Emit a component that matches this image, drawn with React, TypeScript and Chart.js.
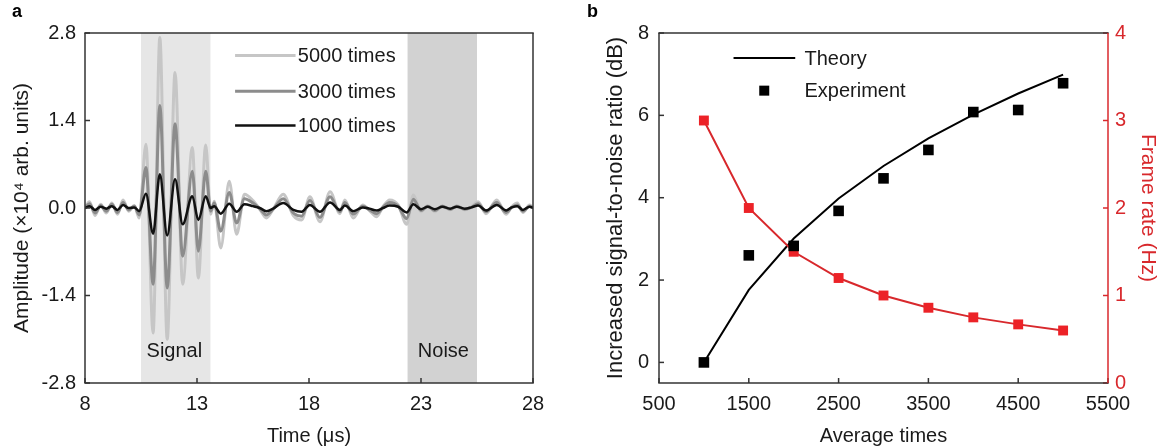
import React, { useEffect, useRef } from "react";
import { Chart, registerables } from "chart.js";

Chart.register(...registerables);

const FONT = "'Liberation Sans', Arial, Helvetica, sans-serif";
Chart.defaults.font.family = FONT;

// ---------- Panel a data ----------
const TIME_US = [
  8.0, 8.2, 8.45, 8.7, 8.95, 9.2, 9.45, 9.7, 9.95, 10.2, 10.42,
  10.72, 11.04, 11.34, 11.67, 12.02, 12.36, 12.79, 13.06, 13.39, 13.61, 13.77,
  14.06, 14.44, 14.77, 15.12, 15.5, 15.8, 16.1, 16.4, 16.85, 17.3,
  17.67, 18.04, 18.49, 18.94, 19.38, 19.6, 19.98, 20.4, 20.7, 21.02,
  21.3, 21.6, 21.98, 22.36, 22.66, 23.0, 23.3, 23.62, 23.95, 24.3,
  24.6, 24.95, 25.25, 25.55, 25.9, 26.38, 26.8, 27.05, 27.3, 27.55,
  27.85, 28.0,
];
const AMP_5000 = [
  0.0, 0.1, -0.12, 0.06, -0.08, 0.08, -0.1, 0.13, -0.05, 0.04, -0.16,
  1.02, -2.0, 2.73, -2.1, 2.17, -1.22, 0.97, -1.12, 1.01, -0.1, 0.11,
  -0.64, 0.43, -0.42, 0.22, 0.12, -0.02, -0.16, -0.02, 0.22, -0.12,
  -0.19, 0.18, -0.22, 0.26, -0.09, 0.13, -0.16, 0.05, -0.04, -0.14,
  0.02, 0.13, 0.05, -0.26, 0.21, -0.06, 0.04, -0.06, 0.04, -0.03,
  0.04, -0.03, 0.02, 0.1, -0.09, 0.13, -0.1, 0.02, 0.08, -0.07,
  0.05, 0.0,
];
const AMP_3000 = [
  0.0, 0.07, -0.08, 0.04, -0.05, 0.06, -0.07, 0.09, -0.03, 0.03, -0.11,
  0.65, -1.22, 1.64, -1.28, 1.35, -0.77, 0.59, -0.69, 0.59, -0.05, 0.08,
  -0.37, 0.25, -0.24, 0.15, 0.08, -0.01, -0.11, -0.02, 0.15, -0.08,
  -0.13, 0.12, -0.15, 0.18, -0.06, 0.09, -0.1, 0.03, -0.03, -0.09,
  0.01, 0.09, 0.03, -0.17, 0.14, -0.04, 0.03, -0.04, 0.03, -0.02,
  0.03, -0.02, 0.01, 0.07, -0.06, 0.09, -0.07, 0.01, 0.05, -0.05,
  0.03, 0.0,
];
const AMP_1000 = [
  0.0, 0.03, -0.03, 0.02, -0.01, 0.03, -0.03, 0.05, 0.0, 0.01, -0.05,
  0.23, -0.41, 0.54, -0.44, 0.46, -0.26, 0.19, -0.19, 0.19, 0.0, 0.03,
  -0.09, 0.07, -0.06, 0.06, 0.03, 0.0, -0.05, -0.01, 0.08, -0.03,
  -0.06, 0.05, -0.06, 0.09, -0.03, 0.04, -0.05, 0.01, -0.01, -0.04,
  0.0, 0.04, 0.02, -0.07, 0.06, -0.02, 0.02, -0.02, 0.02, -0.01,
  0.02, -0.01, 0.01, 0.04, -0.04, 0.05, -0.04, 0.01, 0.03, -0.03,
  0.02, 0.0,
];
const X_TICKS_A = [8, 13, 18, 23, 28];
const Y_TICKS_A = [-2.8, -1.4, 0, 1.4, 2.8];
const SIGNAL_BAND = [10.5, 13.6];
const NOISE_BAND = [22.4, 25.5];
const SERIES_A_LABELS = ["5000 times", "3000 times", "1000 times"];

// ---------- Panel b data ----------
const AVERAGE_TIMES = [1000, 1500, 2000, 2500, 3000, 3500, 4000, 4500, 5000];
const THEORY_SNR = [0, 1.76, 3.01, 3.98, 4.77, 5.44, 6.02, 6.53, 6.99];
const EXPERIMENT_SNR = [0, 2.6, 2.83, 3.68, 4.47, 5.16, 6.08, 6.13, 6.78];
const FRAME_RATE = [3.0, 2.0, 1.5, 1.2, 1.0, 0.86, 0.75, 0.67, 0.6];
const X_TICKS_B = [500, 1500, 2500, 3500, 4500, 5500];
const Y_TICKS_B = [0, 2, 4, 6, 8];
const Y1_TICKS_B = [0, 1, 2, 3, 4];

const RED = "#d8282c";
const RED_FILL = "#ec2227";
const AXIS = "#333333";
const TICK_LEN = 5;
const TICK_SIZE = 20;

type TickSpec = { axis: string; side: "bottom" | "left" | "right"; color: string };

function framePlugin(sides: { top?: string; right?: string; bottom?: string; left?: string }, ticks: TickSpec[]) {
  return {
    id: "frame",
    afterDatasetsDraw(chart: any) {
      const { ctx, chartArea } = chart;
      const { left, right, top, bottom } = chartArea;
      ctx.save();
      ctx.lineWidth = 1.5;
      const line = (x1: number, y1: number, x2: number, y2: number, c: string) => {
        ctx.strokeStyle = c;
        ctx.beginPath();
        ctx.moveTo(x1, y1);
        ctx.lineTo(x2, y2);
        ctx.stroke();
      };
      for (const t of ticks) {
        const s = chart.scales[t.axis];
        for (const tk of s.ticks) {
          const p = s.getPixelForValue(tk.value);
          if (t.side === "bottom") line(p, bottom, p, bottom - TICK_LEN, t.color);
          else if (t.side === "left") line(left, p, left + TICK_LEN, p, t.color);
          else line(right, p, right - TICK_LEN, p, t.color);
        }
      }
      if (sides.top) line(left - 0.75, top, right + 0.75, top, sides.top);
      if (sides.bottom) line(left - 0.75, bottom, right + 0.75, bottom, sides.bottom);
      if (sides.left) line(left, top, left, bottom, sides.left);
      if (sides.right) line(right, top, right, bottom, sides.right);
      ctx.restore();
    },
  };
}

const bandsPlugin = {
  id: "bands",
  beforeDatasetsDraw(chart: any) {
    const { ctx, chartArea, scales } = chart;
    const x = scales.x;
    const y = scales.y;
    ctx.save();
    const band = (b: number[], color: string) => {
      const x1 = x.getPixelForValue(b[0]);
      const x2 = x.getPixelForValue(b[1]);
      ctx.fillStyle = color;
      ctx.fillRect(x1, chartArea.top, x2 - x1, chartArea.bottom - chartArea.top);
    };
    band(SIGNAL_BAND, "#e6e6e6");
    band(NOISE_BAND, "#d2d2d2");
    ctx.fillStyle = "#1a1a1a";
    ctx.font = `${TICK_SIZE}px ${FONT}`;
    ctx.textAlign = "center";
    ctx.textBaseline = "middle";
    ctx.fillText("Signal", x.getPixelForValue(11.99), y.getPixelForValue(-2.29));
    ctx.fillText("Noise", x.getPixelForValue(24.0), y.getPixelForValue(-2.29));
    ctx.restore();
  },
};

const LEGEND_A_LINE = [14.7, 17.4];
const LEGEND_A_TEXT_X = 17.5;
const LEGEND_A_ROWS = [2.44, 1.87, 1.32];
const LEGEND_A_STYLE = [
  { color: "#c6c6c6", width: 3 },
  { color: "#8c8c8c", width: 3 },
  { color: "#111111", width: 2.5 },
];

const legendAPlugin = {
  id: "legendA",
  afterDatasetsDraw(chart: any) {
    const { ctx, scales } = chart;
    const x = scales.x;
    const y = scales.y;
    ctx.save();
    ctx.font = `${TICK_SIZE}px ${FONT}`;
    ctx.textAlign = "left";
    ctx.textBaseline = "middle";
    SERIES_A_LABELS.forEach((label, i) => {
      const yp = y.getPixelForValue(LEGEND_A_ROWS[i]);
      ctx.strokeStyle = LEGEND_A_STYLE[i].color;
      ctx.lineWidth = LEGEND_A_STYLE[i].width;
      ctx.beginPath();
      ctx.moveTo(x.getPixelForValue(LEGEND_A_LINE[0]), yp);
      ctx.lineTo(x.getPixelForValue(LEGEND_A_LINE[1]), yp);
      ctx.stroke();
      ctx.fillStyle = "#1a1a1a";
      ctx.fillText(label, x.getPixelForValue(LEGEND_A_TEXT_X), yp + 1);
    });
    ctx.restore();
  },
};

const LEGEND_B_LINE = [1330, 2017];
const LEGEND_B_MARK_X = 1672;
const LEGEND_B_TEXT_X = 2120;
const LEGEND_B_ROWS = [7.39, 6.6];

const legendBPlugin = {
  id: "legendB",
  afterDatasetsDraw(chart: any) {
    const { ctx, scales } = chart;
    const x = scales.x;
    const y = scales.y;
    ctx.save();
    ctx.font = `${TICK_SIZE}px ${FONT}`;
    ctx.textAlign = "left";
    ctx.textBaseline = "middle";
    const y0 = y.getPixelForValue(LEGEND_B_ROWS[0]);
    const y1 = y.getPixelForValue(LEGEND_B_ROWS[1]);
    ctx.strokeStyle = "#000";
    ctx.lineWidth = 2;
    ctx.beginPath();
    ctx.moveTo(x.getPixelForValue(LEGEND_B_LINE[0]), y0);
    ctx.lineTo(x.getPixelForValue(LEGEND_B_LINE[1]), y0);
    ctx.stroke();
    ctx.fillStyle = "#000";
    const mx = x.getPixelForValue(LEGEND_B_MARK_X);
    ctx.fillRect(mx - 5, y1 - 5, 10, 10);
    ctx.fillStyle = "#1a1a1a";
    ctx.fillText("Theory", x.getPixelForValue(LEGEND_B_TEXT_X), y0 + 1);
    ctx.fillText("Experiment", x.getPixelForValue(LEGEND_B_TEXT_X), y1 + 1);
    ctx.restore();
  },
};

function pts(xs: number[], ys: number[]) {
  return xs.map((v, i) => ({ x: v, y: ys[i] }));
}

const plainNumber = (v: any) => String(v);

function configA(): any {
  const mk = (label: string, ys: number[], color: string, width: number) => ({
    label,
    data: pts(TIME_US, ys),
    borderColor: color,
    borderWidth: width,
    pointRadius: 0,
    fill: false,
    cubicInterpolationMode: "monotone",
  });
  return {
    type: "line",
    data: {
      datasets: [
        mk("1000 times", AMP_1000, "#111111", 2.5),
        mk("3000 times", AMP_3000, "#8c8c8c", 3),
        mk("5000 times", AMP_5000, "#c6c6c6", 3),
      ],
    },
    options: {
      responsive: false,
      animation: false,
      devicePixelRatio: 1,
      layout: { padding: { left: 0, right: 47, top: 33, bottom: 0 } },
      plugins: { legend: { display: false }, tooltip: { enabled: false } },
      scales: {
        x: {
          type: "linear",
          min: 8,
          max: 28,
          afterBuildTicks: (s: any) => {
            s.ticks = X_TICKS_A.map((v) => ({ value: v }));
          },
          afterFit: (s: any) => {
            s.height = 65;
          },
          grid: { display: false, drawTicks: false },
          border: { display: false },
          ticks: { color: "#1a1a1a", font: { size: TICK_SIZE }, padding: 9, maxRotation: 0, autoSkip: false, callback: plainNumber },
          title: { display: true, text: "Time (μs)", color: "#1a1a1a", font: { size: 20 }, padding: 0 },
        },
        y: {
          type: "linear",
          min: -2.8,
          max: 2.8,
          afterBuildTicks: (s: any) => {
            s.ticks = Y_TICKS_A.map((v) => ({ value: v }));
          },
          afterFit: (s: any) => {
            s.width = 85;
          },
          grid: { display: false, drawTicks: false },
          border: { display: false },
          ticks: {
            color: "#1a1a1a",
            font: { size: TICK_SIZE },
            padding: 9,
            autoSkip: false,
            callback: (v: any) => Number(v).toFixed(1),
          },
          title: {
            display: true,
            text: "Amplitude (×10⁴ arb. units)",
            color: "#1a1a1a",
            font: { size: 21 },
            padding: { top: 10, bottom: 0 },
          },
        },
      },
    },
    plugins: [
      bandsPlugin,
      framePlugin(
        { top: AXIS, right: AXIS, bottom: AXIS, left: AXIS },
        [
          { axis: "x", side: "bottom", color: AXIS },
          { axis: "y", side: "left", color: AXIS },
        ]
      ),
      legendAPlugin,
    ],
  };
}

function configB(): any {
  return {
    type: "line",
    data: {
      datasets: [
        {
          label: "Experiment",
          data: pts(AVERAGE_TIMES, EXPERIMENT_SNR),
          showLine: false,
          pointStyle: "rect",
          pointRadius: 7.5,
          pointBackgroundColor: "#000",
          pointBorderColor: "#000",
          pointBorderWidth: 0,
          yAxisID: "y",
        },
        {
          label: "Frame rate",
          data: pts(AVERAGE_TIMES, FRAME_RATE),
          borderColor: RED,
          borderWidth: 2,
          pointStyle: "rect",
          pointRadius: 7,
          pointBackgroundColor: RED_FILL,
          pointBorderColor: RED_FILL,
          pointBorderWidth: 0,
          yAxisID: "y1",
        },
        {
          label: "Theory",
          data: pts(AVERAGE_TIMES, THEORY_SNR),
          borderColor: "#000",
          borderWidth: 2,
          pointRadius: 0,
          yAxisID: "y",
        },
      ],
    },
    options: {
      responsive: false,
      animation: false,
      devicePixelRatio: 1,
      layout: { padding: { left: 0, right: 0, top: 33, bottom: 0 } },
      plugins: { legend: { display: false }, tooltip: { enabled: false } },
      scales: {
        x: {
          type: "linear",
          min: 500,
          max: 5500,
          afterBuildTicks: (s: any) => {
            s.ticks = X_TICKS_B.map((v) => ({ value: v }));
          },
          afterFit: (s: any) => {
            s.height = 65;
          },
          grid: { display: false, drawTicks: false },
          border: { display: false },
          ticks: { color: "#1a1a1a", font: { size: TICK_SIZE }, padding: 9, maxRotation: 0, autoSkip: false, callback: plainNumber },
          title: { display: true, text: "Average times", color: "#1a1a1a", font: { size: 20 }, padding: 0 },
        },
        y: {
          type: "linear",
          position: "left",
          min: -0.5,
          max: 8,
          afterBuildTicks: (s: any) => {
            s.ticks = Y_TICKS_B.map((v) => ({ value: v }));
          },
          afterFit: (s: any) => {
            s.width = 79;
          },
          grid: { display: false, drawTicks: false },
          border: { display: false },
          ticks: { color: "#1a1a1a", font: { size: TICK_SIZE }, padding: 10, autoSkip: false, callback: plainNumber },
          title: {
            display: true,
            text: "Increased signal-to-noise ratio (dB)",
            color: "#1a1a1a",
            font: { size: 22 },
            padding: { top: 23, bottom: 0 },
          },
        },
        y1: {
          type: "linear",
          position: "right",
          min: 0,
          max: 4,
          afterBuildTicks: (s: any) => {
            s.ticks = Y1_TICKS_B.map((v) => ({ value: v }));
          },
          afterFit: (s: any) => {
            s.width = 58;
          },
          grid: { display: false, drawTicks: false },
          border: { display: false },
          ticks: { color: RED, font: { size: TICK_SIZE }, padding: 7, autoSkip: false, callback: plainNumber },
          title: {
            display: true,
            text: "Frame rate (Hz)",
            color: RED,
            font: { size: 21 },
            padding: { top: 6, bottom: 0 },
          },
        },
      },
    },
    plugins: [
      framePlugin(
        { top: AXIS, right: RED, bottom: AXIS, left: AXIS },
        [
          { axis: "x", side: "bottom", color: AXIS },
          { axis: "y", side: "left", color: AXIS },
          { axis: "y1", side: "right", color: RED },
        ]
      ),
      legendBPlugin,
    ],
  };
}

export default function App() {
  const refA = useRef<HTMLCanvasElement>(null);
  const refB = useRef<HTMLCanvasElement>(null);
  useEffect(() => {
    const a = new Chart(refA.current as HTMLCanvasElement, configA());
    const b = new Chart(refB.current as HTMLCanvasElement, configB());
    return () => {
      a.destroy();
      b.destroy();
    };
  }, []);
  const labelStyle: React.CSSProperties = {
    position: "absolute",
    top: 1,
    font: `bold 18px ${FONT}`,
    color: "#000",
  };
  return (
    <div
      style={{
        position: "absolute",
        left: 0,
        top: 0,
        width: 1166,
        height: 448,
        background: "#fff",
        overflow: "hidden",
      }}
    >
      <canvas
        ref={refA}
        width={580}
        height={448}
        style={{ position: "absolute", left: 0, top: 0, width: 580, height: 448 }}
      />
      <canvas
        ref={refB}
        width={586}
        height={448}
        style={{ position: "absolute", left: 580, top: 0, width: 586, height: 448 }}
      />
      <div style={{ ...labelStyle, left: 12 }}>a</div>
      <div style={{ ...labelStyle, left: 587 }}>b</div>
    </div>
  );
}
